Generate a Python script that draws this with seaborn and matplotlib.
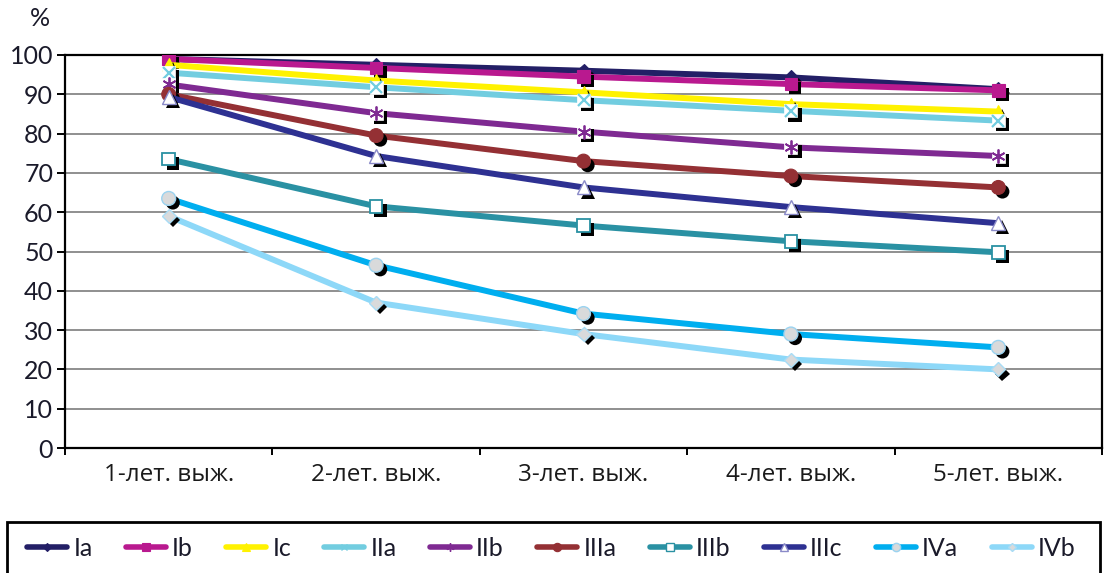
import matplotlib
matplotlib.use("Agg")
import matplotlib.pyplot as plt
import matplotlib.patheffects as pe
from matplotlib.lines import Line2D
from matplotlib.patches import Rectangle
from matplotlib.ticker import FixedLocator
import seaborn as sns

# Survival periods (x categories)
categories = ["1-лет. выж.", "2-лет. выж.", "3-лет. выж.", "4-лет. выж.", "5-лет. выж."]

# Survival rates, %, by group
series_names = ["Ia", "Ib", "Ic", "IIa", "IIb", "IIIa", "IIIb", "IIIc", "IVa", "IVb"]
ia = [99.0, 97.5, 96.0, 94.3, 91.3]
ib = [99.0, 96.7, 94.5, 92.6, 91.0]
ic = [97.5, 93.5, 90.5, 87.5, 85.6]
iia = [95.5, 91.8, 88.5, 85.8, 83.3]
iib = [92.5, 85.2, 80.5, 76.5, 74.3]
iiia = [90.0, 79.5, 73.0, 69.2, 66.3]
iiib = [73.5, 61.5, 56.6, 52.6, 49.8]
iiic = [89.3, 74.3, 66.3, 61.3, 57.2]
iva = [63.5, 46.5, 34.2, 29.0, 25.6]
ivb = [59.0, 37.0, 29.0, 22.5, 20.0]
series_values = [ia, ib, ic, iia, iib, iiia, iiib, iiic, iva, ivb]

y_ticks = list(range(0, 101, 10))

# Line colours and marker styles per group
line_colors = ["#231f66", "#b9198f", "#fff200", "#72cde0", "#7f2a92",
               "#943034", "#2a91a3", "#2e3192", "#00aeef", "#8dd8f8"]
marker_styles = [
    dict(marker="D", markersize=7.2, markerfacecolor="#231f66", markeredgecolor="#231f66", markeredgewidth=0.8),
    dict(marker="s", markersize=9.0, markerfacecolor="#b9198f", markeredgecolor="#b9198f", markeredgewidth=0.8),
    dict(marker="^", markersize=9.5, markerfacecolor="#fff200", markeredgecolor="#fff200", markeredgewidth=0.8),
    dict(marker="x", markersize=8.0, markerfacecolor="#72cde0", markeredgecolor="#72cde0", markeredgewidth=1.6),
    dict(marker=(6, 2, 0), markersize=10.0, markerfacecolor="#7f2a92", markeredgecolor="#7f2a92", markeredgewidth=1.3),
    dict(marker="o", markersize=10.0, markerfacecolor="#943034", markeredgecolor="#943034", markeredgewidth=0.8),
    dict(marker="s", markersize=9.0, markerfacecolor="white", markeredgecolor="#2a91a3", markeredgewidth=1.3),
    dict(marker="^", markersize=10.0, markerfacecolor="white", markeredgecolor="#8a8ac8", markeredgewidth=1.0),
    dict(marker="o", markersize=10.0, markerfacecolor="#d9dadb", markeredgecolor="#9bd3f0", markeredgewidth=1.0),
    dict(marker="D", markersize=7.2, markerfacecolor="#d9dadb", markeredgecolor="#a8dcf5", markeredgewidth=1.0),
]
open_markers = {"x", (6, 2, 0)}

sns.set_style("white")
plt.rcParams["font.family"] = ["Open Sans", "DejaVu Sans"]

fig = plt.figure(figsize=(11.06, 5.73), dpi=100)
W, H = 1106, 573
ax = fig.add_axes([65 / W, 1 - 448 / H, (1102 - 65) / W, (448 - 55) / H])

shadow = [pe.SimplePatchShadow(offset=(3, -3), shadow_rgbFace="black", alpha=1.0), pe.Normal()]

for name, vals, col, mstyle in zip(series_names, series_values, line_colors, marker_styles):
    sns.lineplot(x=categories, y=vals, ax=ax, color=col, linewidth=4.3, sort=False,
                 legend=False, zorder=3)
    if mstyle["marker"] in open_markers:
        # open glyphs sit on a white square that casts the shadow
        sns.lineplot(x=categories, y=vals, ax=ax, linestyle="", sort=False, legend=False,
                     marker="s", markersize=9.5, markerfacecolor="white",
                     markeredgecolor="white", markeredgewidth=0.5, zorder=3)
        ax.lines[-1].set_path_effects(shadow)
        sns.lineplot(x=categories, y=vals, ax=ax, linestyle="", sort=False, legend=False,
                     zorder=3, **mstyle)
    else:
        sns.lineplot(x=categories, y=vals, ax=ax, linestyle="", sort=False, legend=False,
                     zorder=3, **mstyle)
        ax.lines[-1].set_path_effects(shadow)

ax.set_xlim(-0.5, len(categories) - 0.5)
ax.set_ylim(0, 100)
ax.set_yticks(y_ticks)
ax.set_xlabel("")
ax.set_ylabel("")

ax.grid(axis="y", color="#878787", linewidth=1.3, zorder=0)
ax.grid(axis="x", visible=False)
ax.set_axisbelow(True)
for side in ["left", "bottom", "top", "right"]:
    ax.spines[side].set_visible(True)
    ax.spines[side].set_color("black")
    ax.spines[side].set_linewidth(1.6)

ax.tick_params(axis="y", which="major", direction="out", length=5.5, width=1.4,
               color="black", pad=3, left=True, labelsize=18, labelcolor="#1a1a2a")
for lbl in ax.get_yticklabels():
    lbl.set_family(["Lato", "DejaVu Sans"])
ax.tick_params(axis="x", which="major", length=0, pad=11, labelsize=17.5, labelcolor="#1a1a1a")
ax.xaxis.set_minor_locator(FixedLocator([i + 0.5 for i in range(-1, len(categories))]))
ax.tick_params(axis="x", which="minor", direction="out", length=5, width=1.4,
               color="black", bottom=True)

fig.text(40 / W, 1 - 19 / H, "%", fontsize=18, ha="center", va="center",
         color="#1a1a2a", family=["Lato", "DejaVu Sans"])

# Legend strip along the bottom
fig.patches.append(Rectangle((7 / W, -0.05), (1100 - 7) / W, 0.05 + 1 - 522 / H,
                             transform=fig.transFigure, facecolor="white",
                             edgecolor="black", linewidth=2.0, zorder=0))
handles = []
for col, mstyle in zip(line_colors, marker_styles):
    hs = dict(mstyle)
    hs["markersize"] = mstyle["markersize"] * 0.6
    hs["markeredgewidth"] = min(mstyle["markeredgewidth"], 1.0)
    handles.append(Line2D([], [], color=col, linewidth=4.0, **hs))
leg = fig.legend(handles, series_names, loc="center left", ncol=len(series_names),
                 bbox_to_anchor=(27 / W, 1 - 548 / H), bbox_transform=fig.transFigure,
                 frameon=False, borderpad=0, borderaxespad=0,
                 handlelength=1.6, handletextpad=0.25, columnspacing=1.33,
                 prop={"family": ["Lato", "DejaVu Sans"], "size": 18})
for t in leg.get_texts():
    t.set_color("#1a1a2a")

fig.savefig("out.png", dpi=100)
